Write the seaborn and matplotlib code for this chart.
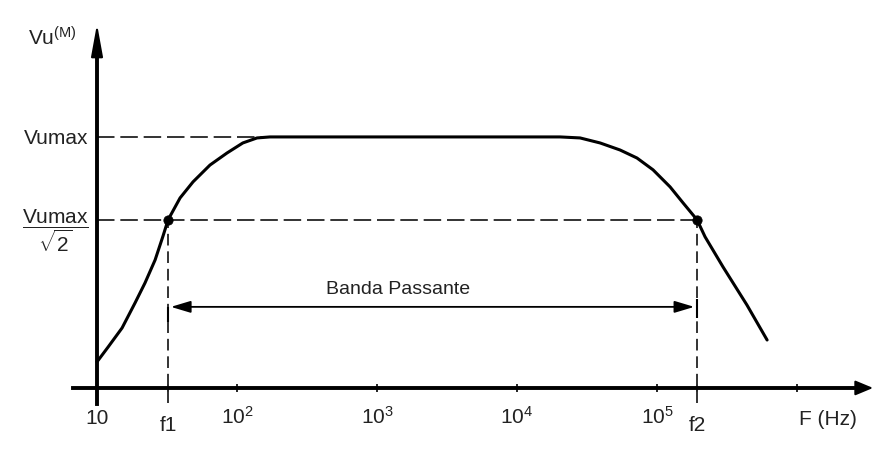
import numpy as np
import pandas as pd
import matplotlib
matplotlib.use('Agg')
import matplotlib.pyplot as plt
import matplotlib.transforms as mtransforms
import seaborn as sns

# curva di risposta (frequenza in Hz, Vu / Vumax)
freq = [10, 12, 15.1, 18.7, 22, 26, 29.6, 32.2, 39.2, 48.5, 64.1, 84.8, 110, 139, 172,
        1460, 20300, 28200, 39200, 54400, 71900, 93600, 123900, 153500, 193000,
        220300, 296000, 439000, 611000]
gain = [0.104, 0.163, 0.239, 0.339, 0.418, 0.51, 0.605, 0.67, 0.757, 0.821, 0.888, 0.936, 0.976, 0.996, 1.0,
        1.0, 1.0, 0.996, 0.976, 0.948, 0.916, 0.869, 0.801, 0.737, 0.67,
        0.602, 0.482, 0.33, 0.191]

vumax = 1.0
v_cut = 0.67          # Vumax / sqrt(2) come disegnato
f1 = 32.2
f2 = 193000
f_flat = 150          # fine della linea tratteggiata di Vumax

xtick_pos = [10, f1, 1e2, 1e3, 1e4, 1e5, f2, 1e6]
xtick_lab = ['10', 'f1', r'$\mathregular{10^2}$', r'$\mathregular{10^3}$',
             r'$\mathregular{10^4}$', r'$\mathregular{10^5}$', 'f2', '']
ytick_pos = [v_cut, vumax]
ytick_lab = [r'$\dfrac{\mathregular{Vumax}}{\sqrt{\mathregular{2}}}$', 'Vumax']

band_y = 0.323
band_label = 'Banda Passante'
band_label_f = 1413
band_label_y = 0.394

sns.set_theme(style='white')
plt.rcParams['font.family'] = ['Liberation Sans', 'DejaVu Sans']
plt.rcParams['mathtext.fontset'] = 'custom'
plt.rcParams['mathtext.rm'] = 'Liberation Sans'
plt.rcParams['mathtext.it'] = 'Liberation Sans:italic'
plt.rcParams['mathtext.sf'] = 'Liberation Sans'

fig = plt.figure(figsize=(8.96, 4.59), dpi=100)
ax = fig.add_axes([0.0815, 0.1198, 0.8929, 0.8214])
ax.set_xscale('log')

dash = '#333333'
ax.hlines(vumax, 10, f_flat, colors=dash, linestyles=(0, (9, 3)), lw=1.4)
ax.hlines(v_cut, 10, f2, colors=dash, linestyles=(0, (9, 3)), lw=1.4)
ax.vlines([f1, f2], -0.06, v_cut, colors=dash, linestyles=(0, (6, 3)), lw=1.4)

df = pd.DataFrame({'f': freq, 'v': gain})
sns.lineplot(data=df, x='f', y='v', color='black', lw=2.2, estimator=None, sort=False,
             solid_joinstyle='round', solid_capstyle='round', ax=ax)
pts = pd.DataFrame({'f': [f1, f2], 'v': [v_cut, v_cut]})
sns.scatterplot(data=pts, x='f', y='v', color='black', s=45, edgecolor='black', zorder=5, ax=ax)

ax.set_xlim(6.74, 3.49e6)
ax.set_ylim(-0.064, 1.438)

# assi con frecce
for s in ['top', 'right']:
    ax.spines[s].set_visible(False)
for s in ['left', 'bottom']:
    ax.spines[s].set_color('black')
    ax.spines[s].set_linewidth(2.8)
ax.spines['left'].set_position(('data', 10))
ax.spines['bottom'].set_position(('data', 0))
ax.spines['left'].set_bounds(-0.064, 1.34)
ax.spines['bottom'].set_bounds(6.74, 2.5e6)
ax.annotate('', xy=(10, 1.45), xytext=(10, 1.3),
            arrowprops=dict(arrowstyle='-|>,head_length=1.1,head_width=0.2', mutation_scale=18,
                            color='black', lw=1.5, shrinkA=0, shrinkB=0), annotation_clip=False)
ax.annotate('', xy=(3.49e6, 0), xytext=(2.3e6, 0),
            arrowprops=dict(arrowstyle='-|>,head_length=0.6,head_width=0.25', mutation_scale=18,
                            color='black', lw=1.5, shrinkA=0, shrinkB=0), annotation_clip=False)

# banda passante
ax.annotate('', xy=(f2, band_y), xytext=(f1, band_y),
            arrowprops=dict(arrowstyle='<|-|>,head_length=1.0,head_width=0.3', mutation_scale=12,
                            color='black', lw=1.3, shrinkA=2, shrinkB=2))
ax.vlines(f1, band_y - 0.06, band_y, colors='black', lw=1.5)
ax.vlines(f2, band_y - 0.045, band_y + 0.03, colors='black', lw=1.5)
ax.text(band_label_f, band_label_y, band_label, ha='center', va='center', fontsize=14, color='#222222')

ax.set_xticks(xtick_pos, xtick_lab)
ax.minorticks_off()
ax.set_yticks(ytick_pos, ytick_lab)
ax.tick_params(axis='x', which='major', direction='inout', length=6, width=1.2, color='black',
               pad=23, labelsize=15, labelcolor='#222222', bottom=True)
ax.tick_params(axis='y', length=0, pad=6, labelsize=15, labelcolor='#222222', left=True)

for lbl in ax.get_xticklabels():
    lbl.set_va('baseline')
offset = mtransforms.ScaledTranslation(0, -5 / 72, fig.dpi_scale_trans)
for i in [1, 6]:
    lbl = ax.get_xticklabels()[i]
    lbl.set_transform(lbl.get_transform() + offset)

ax.set_ylabel(r'Vu$^{\mathregular{(M)}}$', rotation=0, fontsize=15, color='#222222', ha='center', va='center')
ax.yaxis.set_label_coords(-0.026, 0.971)
ax.set_xlabel('F (Hz)', fontsize=15, color='#222222', ha='center', va='center')
ax.xaxis.set_label_coords(0.944, -0.042)

fig.savefig('out.png', dpi=100)
